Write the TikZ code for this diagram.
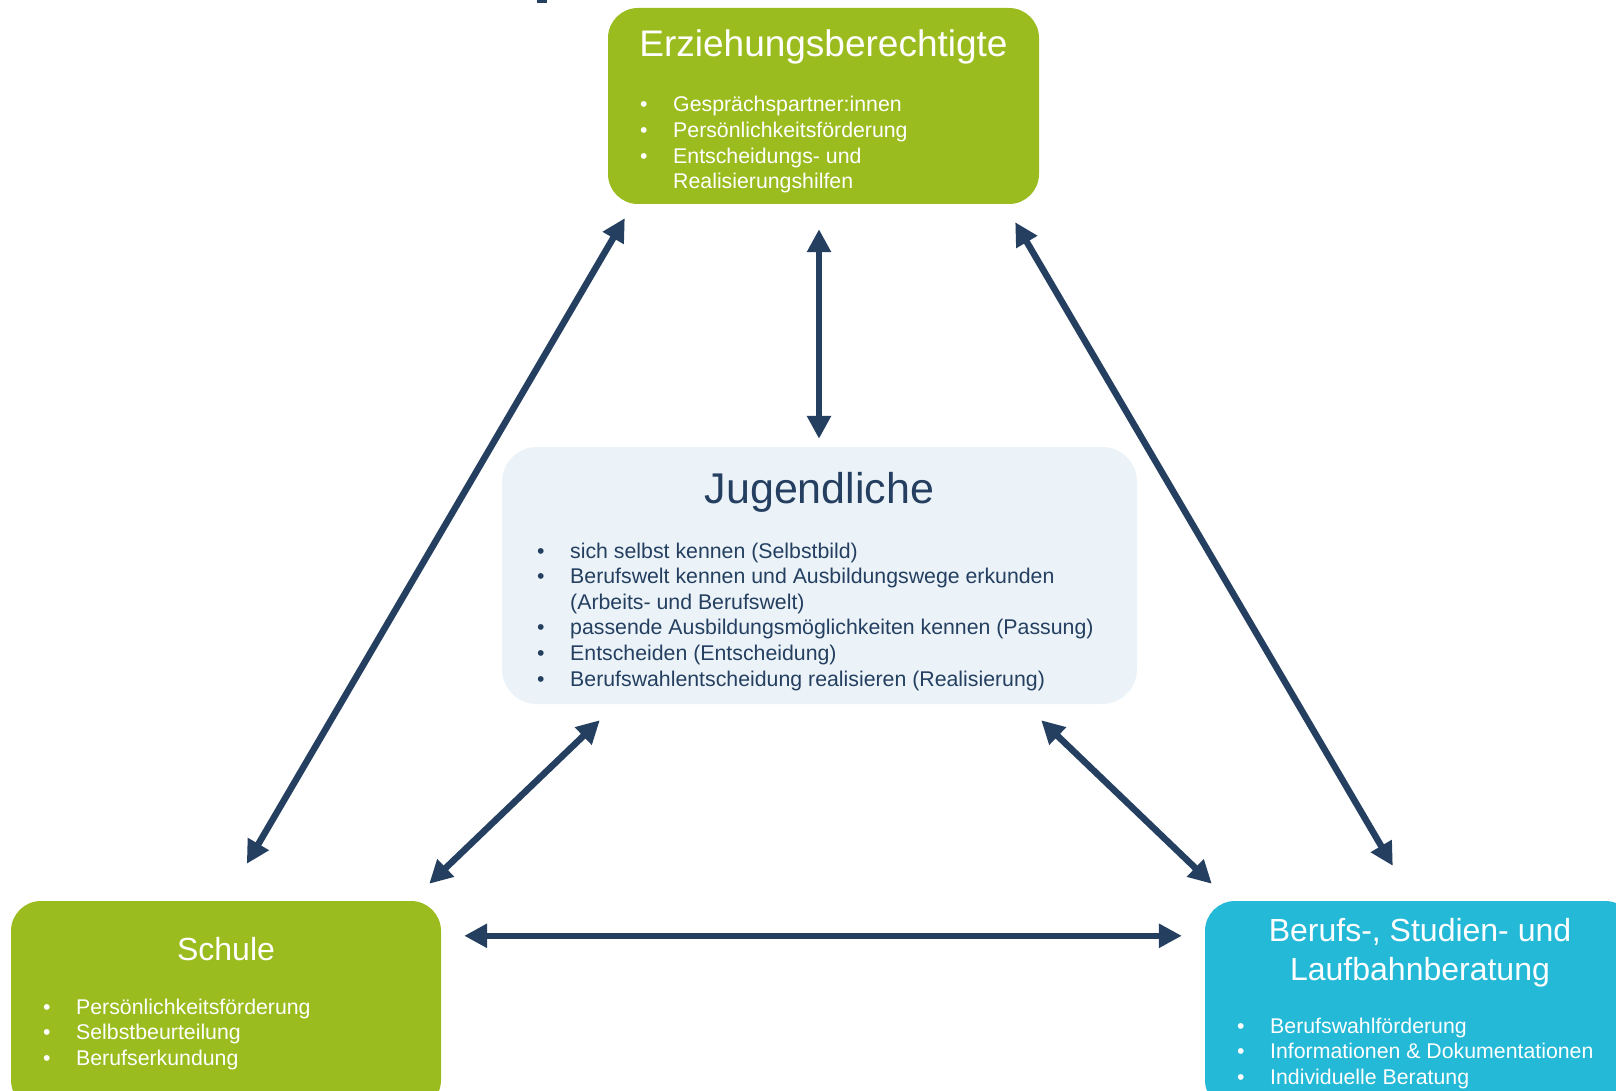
\documentclass[tikz,border=0pt]{standalone}
\usepackage{fontspec}
\setmainfont{Liberation Sans}
\usetikzlibrary{arrows.meta}
\definecolor{lgreen}{HTML}{9BBC1E}
\definecolor{lcyan}{HTML}{23B9D7}
\definecolor{lpale}{HTML}{EBF3F8}
\definecolor{navy}{HTML}{243F60}
\tikzset{
  box/.style={draw=none, rounded corners=30pt, inner sep=0pt},
  ttl/.style={anchor=base, inner sep=0pt},
  lst/.style={anchor=base west, inner sep=0pt},
  biarrow/.style={draw=navy, line width=6.5pt,
    {Triangle[length=23pt,width=23pt]}-{Triangle[length=23pt,width=23pt]}},
}
\newcommand{\bl}{\makebox[33pt][l]{•}}
\newcommand{\bsize}{\fontsize{21.3}{25.6}\selectfont}
\begin{document}
\begin{tikzpicture}[x=1pt,y=-1pt]
\useasboundingbox (0,0) rectangle (1616,1091);
\clip (0,0) rectangle (1616,1091);
\fill[white] (0,0) rectangle (1616,1091);
% cut-off fragment at top
\fill[navy] (537,0) rectangle (547,3);

% boxes
\node[box, fill=lgreen, minimum width=431pt, minimum height=196pt] (erz) at (823.5,106) {};
\node[box, fill=lpale, rounded corners=35pt, minimum width=635pt, minimum height=257pt] (jug) at (819.5,575.5) {};
\node[box, fill=lgreen, minimum width=430pt, minimum height=209pt] (schule) at (226,1005.5) {};
\node[box, fill=lcyan, minimum width=430pt, minimum height=209pt] (ber) at (1420,1005.5) {};

% titles
\node[ttl, text=white, font=\fontsize{37}{44}\selectfont] (erzt) at (823.5,57) {Erziehungsberechtigte};
\node[ttl, text=navy, font=\fontsize{43}{50}\selectfont] (jugt) at (819.5,503) {Jugendliche};
\node[ttl, text=white, font=\fontsize{32}{38}\selectfont] (schulet) at (226,960) {Schule};
\node[ttl, text=white, font=\fontsize{32}{38}\selectfont] (bert1) at (1420,941) {Berufs-, Studien- und};
\node[ttl, text=white, font=\fontsize{32}{38}\selectfont] (bert2) at (1420,980) {Laufbahnberatung};

% lists
\node[lst, text=white] (erzl) at (640,112) {\bsize\begin{tabular}[t]{@{}l@{}}
\bl Gesprächspartner:innen\\
\bl Persönlichkeitsförderung\\
\bl Entscheidungs- und\\
\hspace*{33pt}Realisierungshilfen
\end{tabular}};

\node[lst, text=navy] (jugl) at (537,558) {\bsize\begin{tabular}[t]{@{}l@{}}
\bl sich selbst kennen (Selbstbild)\\
\bl Berufswelt kennen und Ausbildungswege erkunden\\
\hspace*{33pt}(Arbeits- und Berufswelt)\\
\bl passende Ausbildungsmöglichkeiten kennen (Passung)\\
\bl Entscheiden (Entscheidung)\\
\bl Berufswahlentscheidung realisieren (Realisierung)
\end{tabular}};

\node[lst, text=white] (schulel) at (43,1014) {\bsize\begin{tabular}[t]{@{}l@{}}
\bl Persönlichkeitsförderung\\
\bl Selbstbeurteilung\\
\bl Berufserkundung
\end{tabular}};

\node[lst, text=white] (berl) at (1237,1033) {\bsize\begin{tabular}[t]{@{}l@{}}
\bl Berufswahlförderung\\
\bl Informationen \& Dokumentationen\\
\bl Individuelle Beratung
\end{tabular}};

% arrows
\draw[biarrow] ([shift={(17,14)}]erz.south west) -- ([shift={(236,-37)}]schule.north west);
\draw[biarrow] ([shift={(-4.5,25)}]erz.south) -- ([shift={(-0.5,-8)}]jug.north);
\draw[biarrow] ([shift={(-24,18)}]erz.south east) -- ([shift={(188,-35)}]ber.north west);
\draw[biarrow] ([shift={(98,16)}]jug.south west) -- ([shift={(-12,-17)}]schule.north east);
\draw[biarrow] ([shift={(-96,16)}]jug.south east) -- ([shift={(7,-17)}]ber.north west);
\draw[biarrow] ([shift={(23,35)}]schule.north east) -- ([shift={(-23,35)}]ber.north west);
\end{tikzpicture}
\end{document}
